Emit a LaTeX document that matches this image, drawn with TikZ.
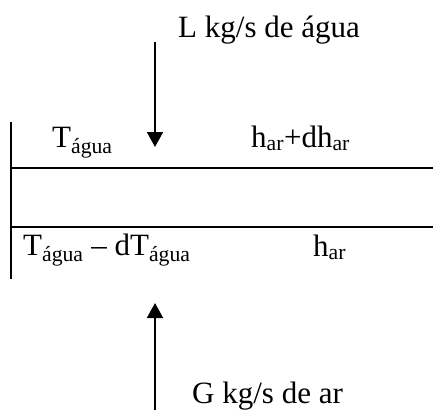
\documentclass[tikz,border=0pt]{standalone}
\usepackage{fontspec}
\setmainfont{Liberation Serif}
\usetikzlibrary{arrows.meta}
\begin{document}
\begin{tikzpicture}[x=1pt,y=-1pt,
  lbl/.style={anchor=base west,inner sep=0pt,font=\fontsize{31}{36}\selectfont},
  wall/.style={line width=1.8pt},
  flow/.style={line width=1.8pt,-{Triangle[width=16pt,length=15pt]}}]
\useasboundingbox (0,0) rectangle (433,410);
% walls
\coordinate (vtop) at (11,122);
\coordinate (vbot) at (11,279);
\coordinate (h1l) at (11,168);
\coordinate (h1r) at (433,168);
\coordinate (h2l) at (11,227);
\coordinate (h2r) at (433,227);
\draw[wall] (vtop) -- (vbot);
\draw[wall] (h1l) -- (h1r);
\draw[wall] (h2l) -- (h2r);
% labels
\node[lbl] (L) at (178,37) {L kg/s de água};
\node[lbl] (Ta) at (52,147) {T\textsubscript{água}};
\node[lbl] (hd) at (251,147) {h\textsubscript{ar}+dh\textsubscript{ar}};
\node[lbl] (Td) at (23,255) {T\textsubscript{água} – dT\textsubscript{água}};
\node[lbl] (h) at (313,256) {h\textsubscript{ar}};
\node[lbl] (G) at (192,403) {G kg/s de ar};
% flows
\coordinate (a1s) at (155,42);
\coordinate (a1e) at (155,147);
\coordinate (a2s) at (155,410);
\coordinate (a2e) at (155,303);
\draw[flow] (a1s) -- (a1e);
\draw[flow] (a2s) -- (a2e);
\end{tikzpicture}
\end{document}
